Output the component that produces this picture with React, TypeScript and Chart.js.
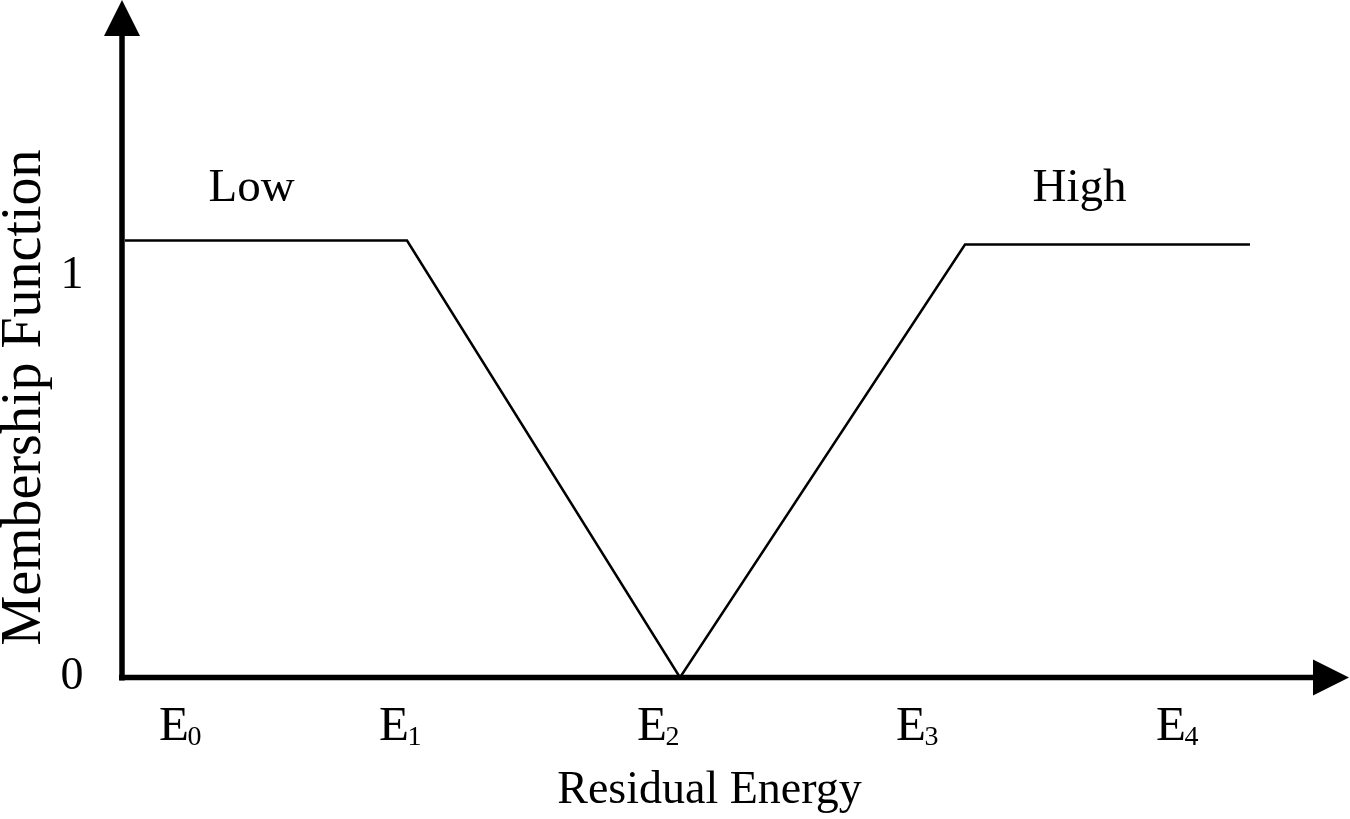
import React, { useEffect, useRef } from "react";
import { Chart, registerables } from "chart.js";

Chart.register(...registerables);

// Data (x in "energy units", y in membership)
const lowSetX = [0.3, 28.5, 55.8];
const lowSetY = [1.09, 1.09, 0];
const highSetX = [55.8, 84.3, 112.8];
const highSetY = [0, 1.08, 1.08];

const xTickValues = [5.9, 27.9, 53.7, 79.6, 105.6];
const xTickBase = ["E", "E", "E", "E", "E"];
const xTickSubs = ["0", "1", "2", "3", "4"];

const yTickValues = [0, 1];
const yTickLabels = ["0", "1"];

const setNames = ["Low", "High"];
const setLabelX = [12.95, 95.75];
const setLabelY = [1.188, 1.188];

const xTitle = "Residual Energy";
const yTitle = "Membership Function";

const X_MAX = 122.7;
const Y_MAX = 1.69;

const FONT = '"Liberation Serif", "Times New Roman", serif';

const drawPlugin = {
  id: "fuzzyDecor",
  afterDatasetsDraw(chart: any) {
    const ctx = chart.ctx as CanvasRenderingContext2D;
    const xs = chart.scales.x;
    const ys = chart.scales.y;
    const x0 = xs.getPixelForValue(0);
    const y0 = ys.getPixelForValue(0);
    const xEnd = xs.getPixelForValue(X_MAX);
    const yEnd = ys.getPixelForValue(Y_MAX);
    const arrowLen = 36;
    const arrowHalf = 18;

    ctx.save();
    ctx.strokeStyle = "#000";
    ctx.fillStyle = "#000";
    ctx.lineWidth = 5.5;
    ctx.lineCap = "butt";
    // y axis
    ctx.beginPath();
    ctx.moveTo(x0, y0 + 3);
    ctx.lineTo(x0, yEnd + arrowLen);
    ctx.stroke();
    // x axis
    ctx.beginPath();
    ctx.moveTo(x0 - 3, y0);
    ctx.lineTo(xEnd - arrowLen, y0);
    ctx.stroke();
    // arrows
    ctx.beginPath();
    ctx.moveTo(x0, yEnd);
    ctx.lineTo(x0 - arrowHalf, yEnd + arrowLen);
    ctx.lineTo(x0 + arrowHalf, yEnd + arrowLen);
    ctx.closePath();
    ctx.fill();
    ctx.beginPath();
    ctx.moveTo(xEnd, y0);
    ctx.lineTo(xEnd - arrowLen, y0 - arrowHalf);
    ctx.lineTo(xEnd - arrowLen, y0 + arrowHalf);
    ctx.closePath();
    ctx.fill();

    // y tick labels
    ctx.font = `46px ${FONT}`;
    ctx.textAlign = "center";
    ctx.textBaseline = "middle";
    yTickValues.forEach((v, i) => {
      ctx.fillText(yTickLabels[i], x0 - 50, ys.getPixelForValue(v) - 1);
    });

    // x tick labels with subscripts
    ctx.textBaseline = "alphabetic";
    ctx.textAlign = "left";
    xTickValues.forEach((v, i) => {
      const cx = xs.getPixelForValue(v);
      ctx.font = `49px ${FONT}`;
      const wb = ctx.measureText(xTickBase[i]).width;
      ctx.font = `28px ${FONT}`;
      const ws = ctx.measureText(xTickSubs[i]).width;
      const start = cx - (wb + ws) / 2;
      ctx.font = `49px ${FONT}`;
      ctx.fillText(xTickBase[i], start, y0 + 62);
      ctx.font = `28px ${FONT}`;
      ctx.fillText(xTickSubs[i], start + wb - 1.5, y0 + 67.5);
    });

    // set labels
    ctx.font = `47px ${FONT}`;
    ctx.textAlign = "center";
    setNames.forEach((n, i) => {
      ctx.fillText(n, xs.getPixelForValue(setLabelX[i]), ys.getPixelForValue(setLabelY[i]));
    });

    // x title
    ctx.font = `46px ${FONT}`;
    ctx.fillText(xTitle, 709.5, y0 + 125.5);

    // y title
    ctx.save();
    ctx.translate(40, 397.5);
    ctx.rotate(-Math.PI / 2);
    ctx.font = `56px ${FONT}`;
    ctx.textAlign = "center";
    ctx.textBaseline = "alphabetic";
    ctx.fillText(yTitle, 0, 0);
    ctx.restore();

    ctx.restore();
  },
};

export default function App() {
  const ref = useRef<HTMLCanvasElement | null>(null);
  useEffect(() => {
    if (!ref.current) return;
    const chart = new Chart(ref.current, {
      type: "line",
      data: {
        datasets: [
          {
            label: setNames[0],
            data: lowSetX.map((x, i) => ({ x, y: lowSetY[i] })),
            borderColor: "#000",
            borderWidth: 2.5,
            pointRadius: 0,
            tension: 0,
            fill: false,
          },
          {
            label: setNames[1],
            data: highSetX.map((x, i) => ({ x, y: highSetY[i] })),
            borderColor: "#000",
            borderWidth: 2.5,
            pointRadius: 0,
            tension: 0,
            fill: false,
          },
        ],
      },
      options: {
        responsive: false,
        animation: false,
        layout: { padding: { left: 122, right: 1, top: 0, bottom: 141.5 } },
        plugins: { legend: { display: false }, tooltip: { enabled: false } },
        scales: {
          x: { type: "linear", display: false, min: 0, max: X_MAX },
          y: { type: "linear", display: false, min: 0, max: Y_MAX },
        },
      },
      plugins: [drawPlugin],
    });
    return () => chart.destroy();
  }, []);
  return (
    <div style={{ position: "absolute", left: 0, top: 0, width: 1350, height: 819, background: "#fff" }}>
      <canvas ref={ref} width={1350} height={819} style={{ display: "block" }} />
    </div>
  );
}
